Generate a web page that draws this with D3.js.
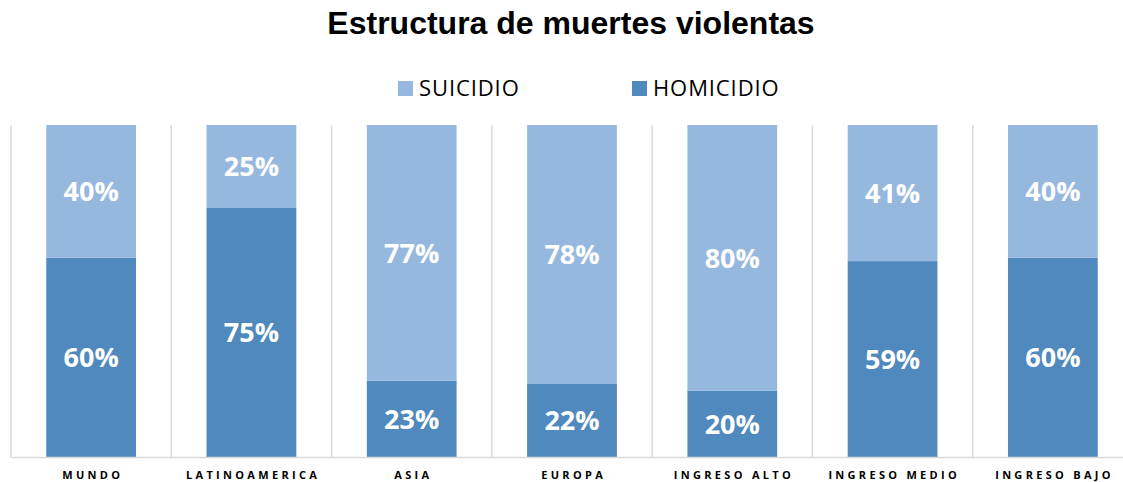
<!DOCTYPE html>
<html>
<head>
<meta charset="utf-8">
<script src="https://cdn.jsdelivr.net/npm/d3@7"></script>
<style>
  body { margin: 0; background: #fff; }
  svg { display: block; }
</style>
</head>
<body>
<script>
const categories = ["MUNDO", "LATINOAMERICA", "ASIA", "EUROPA", "INGRESO ALTO", "INGRESO MEDIO", "INGRESO BAJO"];
const homicidio = [60, 75, 23, 22, 20, 59, 60];
const suicidio = [40, 25, 77, 78, 80, 41, 40];
const seriesNames = ["SUICIDIO", "HOMICIDIO"];

const W = 1123, H = 482;
const margin = {top: 125, right: -10, bottom: 25, left: 11};
const colors = {HOMICIDIO: "#4f89bd", SUICIDIO: "#96b8df"};

const svg = d3.select("body").append("svg")
  .attr("width", W)
  .attr("height", H);

const x = d3.scaleBand()
  .domain(categories)
  .range([margin.left, W - margin.right])
  .paddingInner(0.44)
  .paddingOuter(0.22);

const y = d3.scaleLinear()
  .domain([0, 100])
  .range([H - margin.bottom, margin.top]);

// vertical gridlines at category boundaries
const bounds = d3.range(categories.length + 1).map(i => margin.left + i * (W - margin.right - margin.left) / categories.length);
svg.append("g").selectAll("line")
  .data(bounds)
  .enter().append("line")
  .attr("x1", d => d).attr("x2", d => d)
  .attr("y1", y(100)).attr("y2", y(0))
  .attr("stroke", "#d9d9d9")
  .attr("stroke-width", 1.5);

// stacked data
const rows = categories.map((c, i) => ({cat: c, HOMICIDIO: homicidio[i], SUICIDIO: suicidio[i]}));
const stack = d3.stack().keys(["HOMICIDIO", "SUICIDIO"])(rows);

const layers = svg.append("g").selectAll("g")
  .data(stack)
  .enter().append("g")
  .attr("fill", d => colors[d.key]);

layers.selectAll("rect")
  .data(d => d)
  .enter().append("rect")
  .attr("x", d => x(d.data.cat))
  .attr("y", d => y(d[1]))
  .attr("width", x.bandwidth())
  .attr("height", d => y(d[0]) - y(d[1]));

layers.selectAll("text")
  .data(d => d)
  .enter().append("text")
  .attr("x", d => x(d.data.cat) + x.bandwidth() / 2)
  .attr("y", d => (y(d[0]) + y(d[1])) / 2)
  .attr("dy", "0.36em")
  .attr("text-anchor", "middle")
  .attr("fill", "#fff")
  .style("font-family", "'Open Sans', sans-serif")
  .style("font-weight", "bold")
  .style("font-size", "27px")
  .text(d => (d[1] - d[0]) + "%");

// bottom axis line
svg.append("line")
  .attr("x1", margin.left).attr("x2", W)
  .attr("y1", y(0) + 0.5).attr("y2", y(0) + 0.5)
  .attr("stroke", "#d9d9d9")
  .attr("stroke-width", 1.5);

// category labels
const ls = 3.3;
svg.append("g").selectAll("text")
  .data(categories)
  .enter().append("text")
  .attr("x", d => x(d) + x.bandwidth() / 2 + ls / 2)
  .attr("y", 479)
  .attr("text-anchor", "middle")
  .style("font-family", "'Open Sans', sans-serif")
  .style("font-weight", "bold")
  .style("font-size", "11px")
  .style("letter-spacing", ls + "px")
  .attr("fill", "#000")
  .text(d => d);

// title
svg.append("text")
  .attr("x", 571)
  .attr("y", 34)
  .attr("text-anchor", "middle")
  .style("font-family", "'Liberation Sans', Arial, sans-serif")
  .style("font-weight", "bold")
  .style("font-size", "32px")
  .text("Estructura de muertes violentas");

// legend
const legend = svg.append("g").selectAll("g")
  .data(seriesNames)
  .enter().append("g")
  .attr("transform", (d, i) => `translate(${398 + i * 234}, 81)`);

legend.append("rect")
  .attr("width", 15).attr("height", 15)
  .attr("fill", d => colors[d]);

legend.append("text")
  .attr("x", 21)
  .attr("y", 15)
  .style("font-family", "'Open Sans', sans-serif")
  .style("font-size", "22px")
  .style("letter-spacing", "0.9px")
  .attr("fill", "#000")
  .text(d => d);
</script>
</body>
</html>
